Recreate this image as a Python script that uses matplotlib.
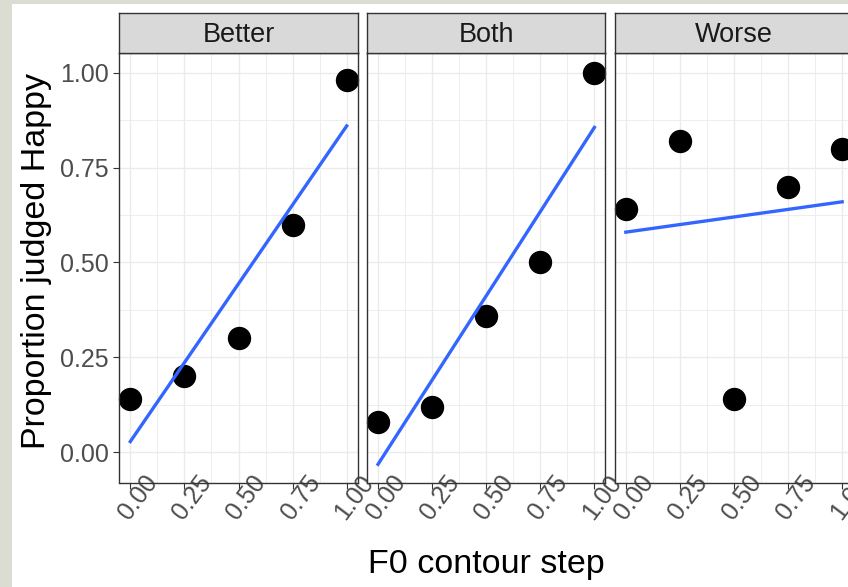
import numpy as np
import matplotlib.pyplot as plt
from matplotlib.patches import Rectangle
from matplotlib.transforms import ScaledTranslation

plt.rcParams['font.family'] = ['Liberation Sans', 'DejaVu Sans']

# proportion of "Happy" responses per F0 contour step, one list per condition
steps = [0.0, 0.25, 0.5, 0.75, 1.0]
conditions = ['Better', 'Both', 'Worse']
better = [0.14, 0.20, 0.30, 0.60, 0.98]
both = [0.08, 0.12, 0.36, 0.50, 1.00]
worse = [0.64, 0.82, 0.14, 0.70, 0.80]
tick_labels = ['0.00', '0.25', '0.50', '0.75', '1.00']

W, H = 848, 587
fig = plt.figure(figsize=(W / 100, H / 100), dpi=100)
fig.patch.set_facecolor('#dcddd2')
fig.patches.append(Rectangle((12 / W, 0), 1, (H - 4) / H, transform=fig.transFigure,
                             facecolor='white', edgecolor='none', zorder=-10))

panel_left = [119.5, 367.2, 615.0]
panel_w = 238.0
top, bottom = 53.3, 482.5
strip_top = 13.3

for i, (name, vals) in enumerate(zip(conditions, [better, both, worse])):
    x0 = panel_left[i]
    ax = fig.add_axes([x0 / W, (H - bottom) / H, panel_w / W, (bottom - top) / H])
    ax.set_xlim(-0.05, 1.05)
    ax.set_ylim(-0.08, 1.0515)
    ax.set_xticks(steps)
    ax.set_xticks([0.125, 0.375, 0.625, 0.875], minor=True)
    ax.set_yticks(steps)
    ax.set_yticks([0.125, 0.375, 0.625, 0.875], minor=True)
    ax.grid(which='major', color='#ebebeb', linewidth=1.0)
    ax.grid(which='minor', color='#ebebeb', linewidth=0.6)
    ax.set_axisbelow(True)
    for s in ax.spines.values():
        s.set_color('#333333')
        s.set_linewidth(1.0)
    ax.tick_params(which='minor', length=0)
    ax.tick_params(which='major', length=4.3, width=0.8, color='#333333',
                   labelsize=18, labelcolor='#4d4d4d', pad=3.5)

    # points, then least-squares line on top
    ax.scatter(steps, vals, s=250, color='black', zorder=2, clip_on=False)
    slope, icpt = np.polyfit(steps, vals, 1)
    xs = np.array([steps[0], steps[-1]])
    ax.plot(xs, icpt + slope * xs, color='#3366ff', linewidth=2.4, zorder=3)

    ax.set_xticklabels(tick_labels)
    ax.tick_params(axis='x', pad=6.1)
    off = ScaledTranslation(8 / 100, 0, fig.dpi_scale_trans)
    for lab in ax.get_xticklabels():
        lab.set_rotation(53)
        lab.set_rotation_mode('anchor')
        lab.set_horizontalalignment('center')
        lab.set_verticalalignment('center')
        lab.set_transform(lab.get_transform() + off)
    if i == 0:
        ax.set_yticklabels(tick_labels)
    else:
        ax.tick_params(axis='y', length=0, labelleft=False)

    # facet strip
    sax = fig.add_axes([x0 / W, (H - top) / H, panel_w / W, (top - strip_top) / H])
    sax.set_facecolor('#d9d9d9')
    sax.set_xticks([])
    sax.set_yticks([])
    for s in sax.spines.values():
        s.set_color('#333333')
        s.set_linewidth(1.0)
    sax.text(0.5, 0.47, name, transform=sax.transAxes, ha='center', va='center',
             fontsize=19.5, color='#1a1a1a')

fig.text(486 / W, (H - 573) / H, 'F0 contour step', ha='center', va='baseline',
         fontsize=24.5, color='black')
fig.text(45 / W, (H - 261) / H, 'Proportion judged Happy', ha='center', va='baseline',
         rotation=90, rotation_mode='anchor', fontsize=24.5, color='black')

fig.savefig('out.png', dpi=100)
